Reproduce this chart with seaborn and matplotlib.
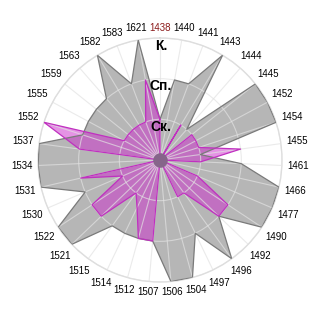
import numpy as np
import pandas as pd
import matplotlib
matplotlib.use("Agg")
import matplotlib.pyplot as plt
import seaborn as sns

# ---- data ----
categories = ["1438", "1440", "1441", "1443", "1444", "1445", "1452", "1454", "1455",
              "1461", "1466", "1477", "1490", "1492", "1496", "1497", "1504", "1506",
              "1507", "1512", "1514", "1515", "1521", "1522", "1530", "1531", "1534",
              "1537", "1552", "1555", "1559", "1563", "1582", "1583", "1621"]
series_gray = [1, 2, 2, 3, 1, 3, 3, 3, 1, 2, 3, 3, 3, 2, 3, 2, 3, 3, 2, 2, 2, 2,
               3, 3, 2, 3, 3, 3, 2, 2, 2, 2, 3, 2, 3]
series_purple = [1, 0, 0, 1, 0, 1, 1, 1, 2, 1, 0, 1, 2, 2, 1, 1, 0, 0, 2, 2, 1.3, 1,
                 2, 2, 1, 2, 0, 2, 3, 1, 1, 1, 1, 1, 2]
ring_values = [1, 2, 3]
ring_labels = ["Ск.", "Сп.", "К."]
highlight = "1438"

sns.set_theme(style="white")
plt.rcParams["font.family"] = ["Liberation Sans", "DejaVu Sans"]

fig = plt.figure(figsize=(3.2, 3.2), dpi=100)
R_PX = 122
ax = fig.add_axes([(160 - R_PX) / 320, (160 - R_PX) / 320, 2 * R_PX / 320, 2 * R_PX / 320],
                  projection="polar")
ax.set_theta_zero_location("N")
ax.set_theta_direction(-1)

n = len(categories)
theta = np.linspace(0, 2 * np.pi, n, endpoint=False)
th_closed = np.append(theta, theta[0] + 2 * np.pi)

df_g = pd.DataFrame({"theta": th_closed, "value": series_gray + series_gray[:1]})
df_p = pd.DataFrame({"theta": th_closed, "value": series_purple + series_purple[:1]})

# fills
ax.fill(df_g["theta"], df_g["value"], color="#b6b6b6", zorder=1, lw=0)
ax.fill(df_p["theta"], df_p["value"], color="#cc30cc", alpha=0.52, zorder=1.5, lw=0)
# outlines via seaborn
sns.lineplot(data=df_g, x="theta", y="value", sort=False, estimator=None, ax=ax,
             color="#7a7a7a", lw=0.9, zorder=3)
sns.lineplot(data=df_p, x="theta", y="value", sort=False, estimator=None, ax=ax,
             color="#c030c0", lw=0.9, zorder=3.1)

# center marker
ax.scatter([0], [0], s=110, color="#86658a", zorder=4, linewidths=0)

ax.set_ylim(0, 3)
ax.set_xticks(theta)
ax.set_xticklabels([])
ax.set_yticks(ring_values)
ax.set_yticklabels([])
ax.set_axisbelow(False)
ax.grid(True, color="#e2e2e2", lw=0.8, alpha=0.7, zorder=2.5)
ax.spines["polar"].set_color("#dcdcdc")
ax.spines["polar"].set_linewidth(1.0)
ax.set_xlabel("")
ax.set_ylabel("")

# category labels
for t, lab in zip(theta, categories):
    s, c = np.sin(t), np.cos(t)
    off_px = 5 + 11 * abs(s) + 5 * abs(c)
    ax.annotate(lab, xy=(t, 3), xytext=(off_px * s * 0.72, off_px * c * 0.72),
                textcoords="offset points", ha="center", va="center", fontsize=7,
                color="#8b1a1a" if lab == highlight else "black",
                annotation_clip=False, zorder=6)

# ring labels
for rv, rl in zip(ring_values, ring_labels):
    ax.text(0.012, rv - 0.19, rl, ha="center", va="center", fontsize=10,
            fontweight="bold", color="black", zorder=6)

fig.savefig("out.png", dpi=100)
